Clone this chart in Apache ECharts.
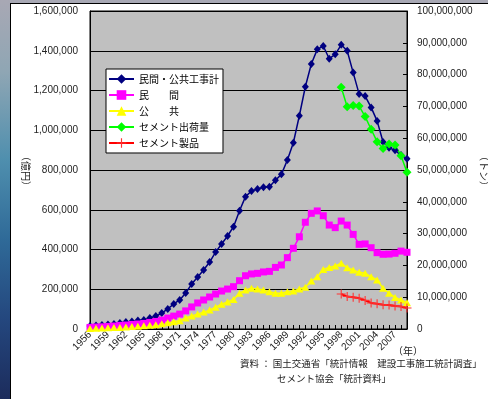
<!DOCTYPE html>
<html>
<head>
<meta charset="utf-8">
<script src="https://cdn.jsdelivr.net/npm/echarts@6/dist/echarts.min.js"></script>
<style>
html, body { margin: 0; padding: 0; width: 488px; height: 399px; overflow: hidden; }
body { background: linear-gradient(to bottom, #a8a8b4 0%, #8fa6b4 18%, #4f8fae 40%, #2f6a98 60%, #24477e 80%, #1c2c5c 100%); }
#panel { position: absolute; left: 10px; top: 3px; right: 0; bottom: 0; background: #fff; border-left: 1px solid #000; border-top: 1px solid #000; }
#chart { position: absolute; left: 0; top: 0; width: 488px; height: 399px; }
</style>
</head>
<body>
<div id="panel"></div>
<div id="chart"></div>
<script>
// 年度
var years = ['1956','1957','1958','1959','1960','1961','1962','1963','1964','1965',
    '1966','1967','1968','1969','1970','1971','1972','1973','1974','1975',
    '1976','1977','1978','1979','1980','1981','1982','1983','1984','1985',
    '1986','1987','1988','1989','1990','1991','1992','1993','1994','1995',
    '1996','1997','1998','1999','2000','2001','2002','2003','2004','2005',
    '2006','2007','2008','2009'];

// 億円
var totalWorks = [15000,18000,20000,23000,25000,30000,35000,38000,43000,45000,
    55000,65000,80000,101000,126000,146000,181000,226000,262000,297000,
    337000,387000,428000,468000,515000,595000,666000,694000,704000,713000,
    716000,748000,778000,850000,937000,1073000,1219000,1333000,1407000,1424000,
    1360000,1382000,1430000,1400000,1290000,1182000,1172000,1115000,1047000,941000,
    912000,899000,875000,857000];
var privateWorks = [8000,10000,11000,13000,15000,18000,20000,23000,25000,28000,
    33000,38000,45000,55000,65000,75000,91000,111000,131000,146000,
    161000,176000,191000,201000,213000,243000,268000,277000,280000,287000,
    290000,310000,322000,359000,406000,464000,537000,582000,594000,570000,
    523000,510000,543000,523000,476000,426000,428000,409000,384000,376000,
    377000,381000,392000,386000];
var publicWorks = [3000,4000,5000,6000,7000,8000,10000,12000,14000,16000,
    19000,22000,26000,31000,36000,42000,55000,66000,75000,85000,
    95000,110000,125000,136000,149000,180000,196000,205000,201000,196000,
    188000,180000,180000,188000,191000,201000,210000,241000,263000,300000,
    310000,317000,331000,308000,297000,285000,280000,263000,247000,205000,
    180000,159000,146000,132000];

// トン
var cementYears = ['1998','1999','2000','2001','2002','2003','2004','2005','2006','2007','2008','2009'];
var cementShip = [76000000,69900000,70300000,70100000,66800000,62800000,58900000,56800000,58200000,57900000,54500000,49300000];
var cementProd = [11000000,10200000,10000000,9650000,9000000,8200000,7950000,7600000,7550000,7200000,7100000,6600000];

var names = ['民間・公共工事計', '民\u3000\u3000間', '公\u3000\u3000共', 'セメント出荷量', 'セメント製品'];

var numFont = 'Arial, "Liberation Sans", "Noto Sans CJK JP", sans-serif';
var jpFont = '"Noto Sans CJK JP", sans-serif';

function pairs(xs, vs) {
    var out = [];
    for (var i = 0; i < xs.length; i++) out.push([xs[i], vs[i]]);
    return out;
}
function commas(v) {
    return String(v).replace(/\B(?=(\d{3})+(?!\d))/g, ',');
}

var chart = echarts.init(document.getElementById('chart'), null, { renderer: 'canvas' });

var option = {
    animation: false,
    backgroundColor: 'transparent',
    grid: {
        left: 90, top: 11, width: 317, height: 318,
        show: true, backgroundColor: '#c0c0c0', borderColor: '#000', borderWidth: 1
    },
    legend: {
        orient: 'vertical',
        left: 106, top: 69,
        data: names,
        backgroundColor: '#fff',
        borderColor: '#000',
        borderWidth: 1,
        padding: [5, 4, 5, 2],
        itemGap: 6,
        itemWidth: 25,
        itemHeight: 12,
        textStyle: { fontSize: 10, color: '#000', fontFamily: jpFont }
    },
    xAxis: {
        type: 'category',
        data: years,
        boundaryGap: false,
        axisLine: { lineStyle: { color: '#000', width: 1 } },
        axisTick: { inside: true, length: 4, interval: 0, lineStyle: { color: '#000' } },
        axisLabel: { interval: 2, rotate: 45, margin: 4, fontSize: 10, color: '#222', fontFamily: numFont },
        splitLine: { show: false }
    },
    yAxis: [{
        type: 'value',
        min: 0, max: 1600000, interval: 200000,
        axisLine: { show: true, lineStyle: { color: '#000' } },
        axisTick: { show: true, inside: true, length: 4, lineStyle: { color: '#000' } },
        axisLabel: { margin: 12, fontSize: 10, color: '#222', fontFamily: numFont, formatter: commas },
        splitLine: { show: true, lineStyle: { color: '#000', width: 1 } }
    }, {
        type: 'value',
        position: 'right',
        min: 0, max: 100000000, interval: 10000000,
        alignTicks: false,
        axisLine: { show: true, lineStyle: { color: '#000' } },
        axisTick: { show: true, inside: true, length: 4, lineStyle: { color: '#000' } },
        axisLabel: { margin: 10, fontSize: 10, color: '#222', fontFamily: numFont, formatter: commas },
        splitLine: { show: false }
    }],
    series: [{
        name: names[0], type: 'line', data: totalWorks,
        color: '#000080', showAllSymbol: true,
        symbol: 'diamond', symbolSize: [7, 8],
        lineStyle: { width: 1.5, color: '#000080' },
        itemStyle: { color: '#000080' }
    }, {
        name: names[1], type: 'line', data: privateWorks,
        color: '#ff00ff', showAllSymbol: true,
        symbol: 'rect', symbolSize: 7,
        lineStyle: { width: 1.5, color: '#ff00ff' },
        itemStyle: { color: '#ff00ff' }
    }, {
        name: names[2], type: 'line', data: publicWorks,
        color: '#ffff00', showAllSymbol: true,
        symbol: 'triangle', symbolSize: [8, 7],
        lineStyle: { width: 1.5, color: '#ffff00' },
        itemStyle: { color: '#ffff00' }
    }, {
        name: names[3], type: 'line', yAxisIndex: 1, data: pairs(cementYears, cementShip),
        color: '#00ff00', showAllSymbol: true,
        symbol: 'diamond', symbolSize: [9, 9],
        lineStyle: { width: 1.5, color: '#00ff00' },
        itemStyle: { color: '#00ff00' }
    }, {
        name: names[4], type: 'line', yAxisIndex: 1, data: pairs(cementYears, cementProd),
        color: '#ff0000', showAllSymbol: true,
        symbol: 'path://M4.4,0H5.6V4.4H10V5.6H5.6V10H4.4V5.6H0V4.4H4.4Z', symbolSize: 9,
        lineStyle: { width: 2, color: '#ff0000' },
        itemStyle: { color: '#ff3333' }
    }],
    graphic: [{
        type: 'text', x: 31, y: 151, rotation: -Math.PI / 2,
        style: { text: '（億円）', fontSize: 10, fontFamily: jpFont, fill: '#222' }
    }, {
        type: 'text', x: 489, y: 151, rotation: -Math.PI / 2,
        style: { text: '（トン）', fontSize: 10, fontFamily: jpFont, fill: '#222' }
    }, {
        type: 'text', left: 393, top: 346,
        style: { text: '（年）', fontSize: 10, fontFamily: jpFont, fill: '#222' }
    }, {
        type: 'text', left: 240, top: 359,
        style: { text: '資料 ： 国土交通省「統計情報\u3000建設工事施工統計調査」', fontSize: 9.5, fontFamily: jpFont, fill: '#222' }
    }, {
        type: 'text', left: 277, top: 374,
        style: { text: 'セメント協会「統計資料」', fontSize: 9.5, fontFamily: jpFont, fill: '#222' }
    }]
};

chart.setOption(option);
</script>
</body>
</html>
